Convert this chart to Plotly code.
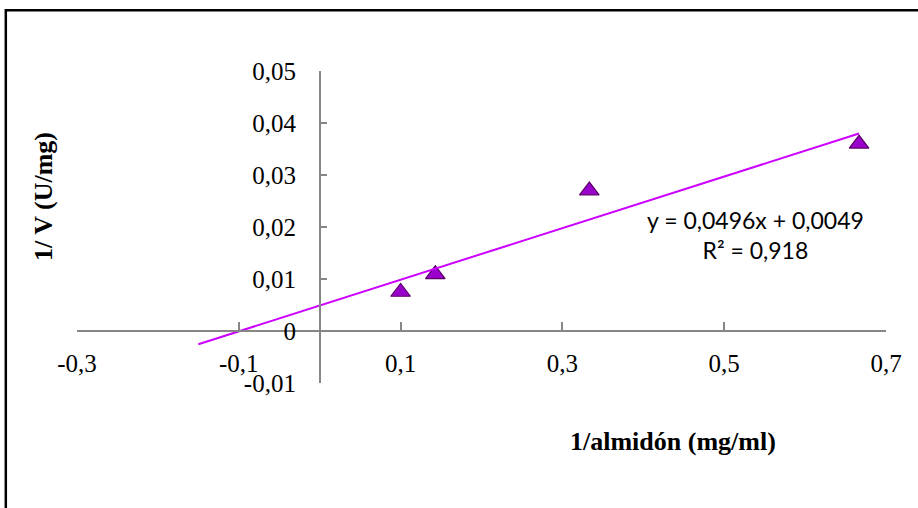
import plotly.graph_objects as go

# Data
x_vals = [0.1, 0.1429, 0.3333, 0.6667]
y_vals = [0.0075, 0.0109, 0.0270, 0.0360]
slope = 0.0496
intercept = 0.0049
trend_x = [-0.15, 0.6667]
x_tickvals = [-0.3, -0.1, 0.1, 0.3, 0.5, 0.7]
x_ticktext = ["-0,3", "-0,1", "0,1", "0,3", "0,5", "0,7"]
y_tickvals = [-0.01, 0, 0.01, 0.02, 0.03, 0.04, 0.05]
y_ticktext = ["-0,01", "0", "0,01", "0,02", "0,03", "0,04", "0,05"]
eq_text = "y = 0,0496x + 0,0049<br>R² = 0,918"
x_title = "1/almidón (mg/ml)"
y_title = "1/ V (U/mg)"

XR = [-0.3, 0.7]
YR = [-0.01, 0.05]
AXIS_GRAY = "#868686"
SERIF = "Liberation Serif"

trend_y = [slope * v + intercept for v in trend_x]

fig = go.Figure()
fig.add_trace(go.Scatter(
    x=trend_x, y=trend_y, mode="lines", xaxis="x2", yaxis="y",
    line=dict(color="#CC00FF", width=2), hoverinfo="skip", showlegend=False))
fig.add_trace(go.Scatter(
    x=x_vals, y=y_vals, mode="markers",
    marker=dict(symbol="triangle-up", size=17, color="#9900CC",
                line=dict(color="#5C0066", width=1.2)),
    showlegend=False))

y_zero_pos = (0 - YR[0]) / (YR[1] - YR[0])
x_zero_pos = (0 - XR[0]) / (XR[1] - XR[0])

fig.update_layout(
    width=918, height=508,
    margin=dict(l=77, r=32, t=71, b=125),
    paper_bgcolor="white", plot_bgcolor="white",
    showlegend=False,
    xaxis=dict(range=XR, anchor="free", position=0.12,
               tickvals=x_tickvals, ticktext=x_ticktext,
               showline=False, ticks="", showgrid=False, zeroline=False,
               tickfont=dict(family=SERIF, size=25, color="black")),
    xaxis2=dict(range=XR, overlaying="x", anchor="free", position=y_zero_pos,
                tickvals=x_tickvals, showticklabels=False,
                showline=True, linecolor=AXIS_GRAY, linewidth=1.5,
                ticks="inside", ticklen=8, tickcolor=AXIS_GRAY, tickwidth=1.5,
                showgrid=False, zeroline=False),
    yaxis=dict(range=YR, anchor="free", position=x_zero_pos,
               tickvals=y_tickvals, ticktext=y_ticktext,
               showline=True, linecolor=AXIS_GRAY, linewidth=1.5,
               ticks="inside", ticklen=7, tickcolor=AXIS_GRAY, tickwidth=1.5,
               ticklabelstandoff=18,
               showgrid=False, zeroline=False,
               tickfont=dict(family=SERIF, size=25, color="black")),
)

fig.add_annotation(text=x_title, xref="paper", yref="paper",
                   x=0.737, y=-0.186, xanchor="center", yanchor="middle",
                   showarrow=False,
                   font=dict(family=SERIF, size=26, color="black", weight="bold"))
fig.add_annotation(text=y_title, xref="paper", yref="paper",
                   x=-0.042, y=0.596, xanchor="center", yanchor="middle",
                   textangle=-90, showarrow=False,
                   font=dict(family=SERIF, size=26, color="black", weight="bold"))
fig.add_annotation(text=eq_text, xref="paper", yref="paper",
                   x=0.839, y=0.474, xanchor="center", yanchor="middle",
                   showarrow=False, align="center",
                   font=dict(family="Lato", size=23, color="black"))

# outer chart-area frame
fig.add_shape(type="rect", xref="paper", yref="paper",
              x0=-0.088, y0=-0.5, x1=1.2, y1=1.195,
              line=dict(color="black", width=2.5), fillcolor="rgba(0,0,0,0)",
              layer="below")

fig.write_html("out.html")
